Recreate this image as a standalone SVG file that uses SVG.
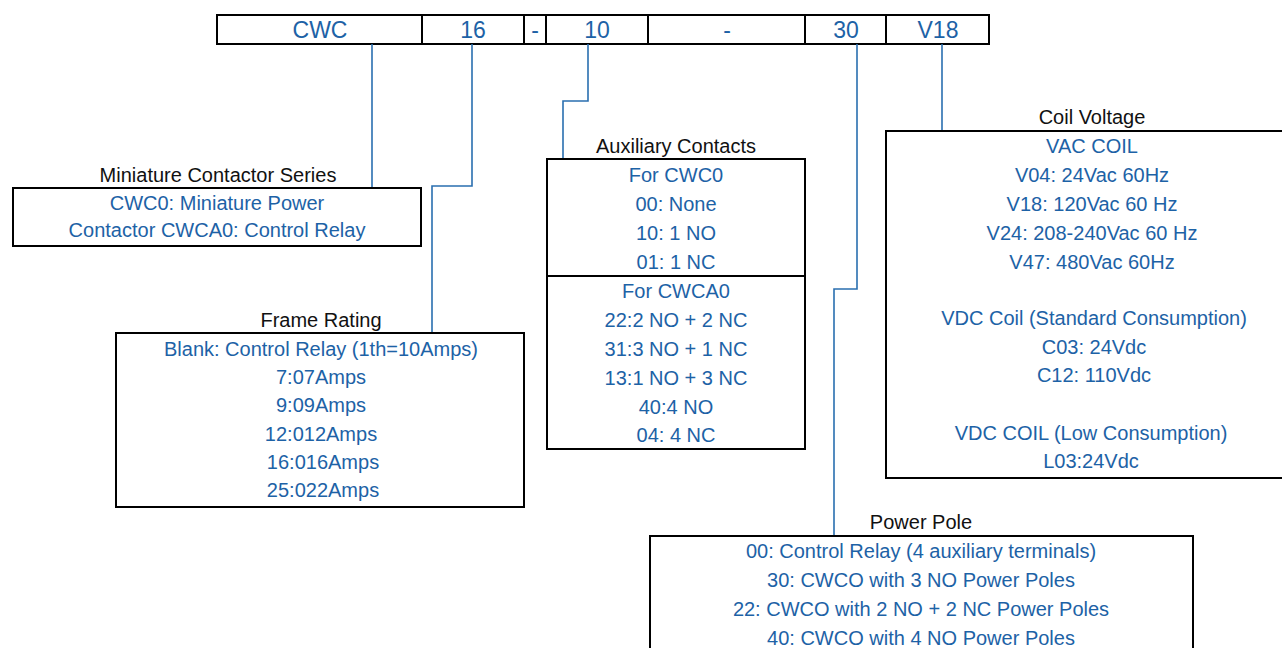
<svg xmlns="http://www.w3.org/2000/svg" width="1282" height="648" viewBox="0 0 1282 648">
<style>
text{font-family:"Liberation Sans",Arial,sans-serif;font-size:20px;text-anchor:middle}
.t{fill:#111}
.b{fill:#1d62a6}
.h{font-size:23px}
.box{fill:#fff;stroke:#000;stroke-width:2}
.div{stroke:#000;stroke-width:2}
.con{fill:none;stroke:#2a6fb0;stroke-width:1.6}
</style>
<rect width="1282" height="648" fill="#fff"/>
<g id="code">
<rect class="box" x="217" y="15" width="772" height="29"/>
<line class="div" x1="422" y1="15" x2="422" y2="44"/>
<line class="div" x1="524" y1="15" x2="524" y2="44"/>
<line class="div" x1="546" y1="15" x2="546" y2="44"/>
<line class="div" x1="648" y1="15" x2="648" y2="44"/>
<line class="div" x1="805" y1="15" x2="805" y2="44"/>
<line class="div" x1="886" y1="15" x2="886" y2="44"/>
<text class="b h" x="320" y="38">CWC</text>
<text class="b h" x="473" y="38">16</text>
<text class="b h" x="535" y="38">-</text>
<text class="b h" x="597" y="38">10</text>
<text class="b h" x="727" y="38">-</text>
<text class="b h" x="846" y="38">30</text>
<text class="b h" x="938" y="38">V18</text>
</g>
<g id="connectors">
<polyline class="con" points="372,44 372,187"/>
<polyline class="con" points="472,44 472,186 432,186 432,333"/>
<polyline class="con" points="588,44 588,101 563,101 563,158"/>
<polyline class="con" points="857,44 857,289 834,289 834,536"/>
<polyline class="con" points="942,44 942,130"/>
</g>
<g id="series">
<text class="t" x="218" y="182">Miniature Contactor Series</text>
<rect class="box" x="13" y="188" width="408" height="58"/>
<text class="b" x="217" y="210">CWC0: Miniature Power</text>
<text class="b" x="217" y="237">Contactor CWCA0: Control Relay</text>
</g>
<g id="frame">
<text class="t" x="321" y="327">Frame Rating</text>
<rect class="box" x="116" y="333" width="408" height="174"/>
<text class="b" x="321" y="356">Blank: Control Relay (1th=10Amps)</text>
<text class="b" x="321" y="384">7:07Amps</text>
<text class="b" x="321" y="412">9:09Amps</text>
<text class="b" x="321" y="441">12:012Amps</text>
<text class="b" x="323" y="469">16:016Amps</text>
<text class="b" x="323" y="497">25:022Amps</text>
</g>
<g id="aux">
<text class="t" x="676" y="153">Auxiliary Contacts</text>
<rect class="box" x="547" y="159" width="258" height="290"/>
<line class="div" x1="547" y1="276" x2="805" y2="276"/>
<text class="b" x="676" y="182">For CWC0</text>
<text class="b" x="676" y="211">00: None</text>
<text class="b" x="676" y="240">10: 1 NO</text>
<text class="b" x="676" y="269">01: 1 NC</text>
<text class="b" x="676" y="298">For CWCA0</text>
<text class="b" x="676" y="327">22:2 NO + 2 NC</text>
<text class="b" x="676" y="356">31:3 NO + 1 NC</text>
<text class="b" x="676" y="385">13:1 NO + 3 NC</text>
<text class="b" x="676" y="414">40:4 NO</text>
<text class="b" x="676" y="442">04: 4 NC</text>
</g>
<g id="coil">
<text class="t" x="1092" y="124">Coil Voltage</text>
<rect class="box" x="886" y="131" width="410" height="347"/>
<text class="b" x="1092" y="153">VAC COIL</text>
<text class="b" x="1092" y="182">V04: 24Vac 60Hz</text>
<text class="b" x="1092" y="211">V18: 120Vac 60 Hz</text>
<text class="b" x="1092" y="240">V24: 208-240Vac 60 Hz</text>
<text class="b" x="1092" y="269">V47: 480Vac 60Hz</text>
<text class="b" x="1094" y="325">VDC Coil (Standard Consumption)</text>
<text class="b" x="1094" y="354">C03: 24Vdc</text>
<text class="b" x="1094" y="382">C12: 110Vdc</text>
<text class="b" x="1091" y="440">VDC COIL (Low Consumption)</text>
<text class="b" x="1091" y="468">L03:24Vdc</text>
</g>
<g id="pole">
<text class="t" x="921" y="529">Power Pole</text>
<rect class="box" x="650" y="536" width="543" height="130"/>
<text class="b" x="921" y="558">00: Control Relay (4 auxiliary terminals)</text>
<text class="b" x="921" y="587">30: CWCO with 3 NO Power Poles</text>
<text class="b" x="921" y="616">22: CWCO with 2 NO + 2 NC Power Poles</text>
<text class="b" x="921" y="645">40: CWCO with 4 NO Power Poles</text>
</g>
</svg>
